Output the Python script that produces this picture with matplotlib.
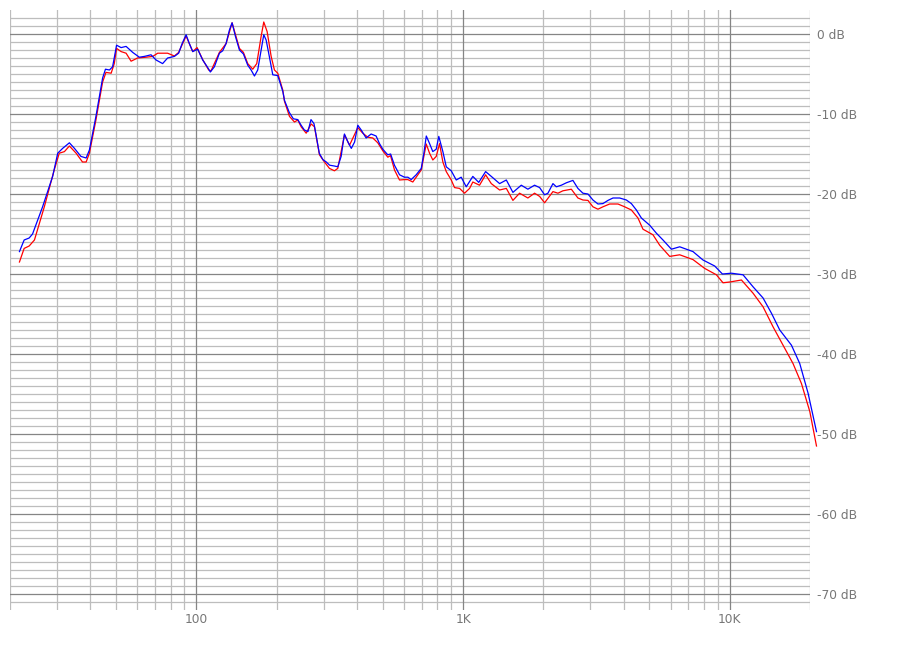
import matplotlib
matplotlib.use("Agg")
import matplotlib.pyplot as plt

# ---- data ----
freq_blue = [21.7, 22.6, 23.6, 24.3, 26.5, 28.9, 30.2, 31.5, 33.4, 34.9, 36.9, 38.6, 39.7,
             42.0, 44.5, 45.6, 47.2, 48.5, 50.2, 52.2, 54.5, 57.7, 61.1, 63.8, 67.6, 70.6,
             74.7, 78.0, 82.7, 85.8, 88.4, 91.5, 94.1, 96.9, 101.1, 105.6, 110.3, 112.8,
             116.8, 122.0, 125.5, 129.2, 133.0, 136.1, 140.1, 145.0, 150.1, 155.8, 160.4,
             165.1, 169.8, 174.9, 178.9, 182.6, 186.7, 193.4, 201.9, 211, 214, 223, 231,
             240, 247, 254, 262, 269, 276, 281, 289, 298, 307, 316, 329, 339, 349, 359,
             370, 381, 392, 403, 415, 433, 452, 472, 486, 500, 522, 535, 553, 578, 603,
             621, 639, 667, 697, 713, 728, 749, 770, 793, 811, 840, 865, 903, 943, 984,
             1028, 1088, 1145, 1215, 1276, 1371, 1453, 1538, 1653, 1750, 1854, 1937, 2022,
             2081, 2173, 2238, 2337, 2439, 2582, 2696, 2815, 2940, 3069, 3205, 3346, 3494,
             3649, 3866, 4096, 4277, 4466, 4663, 5010, 5308, 5620, 6043, 6493, 7283, 7937,
             8783, 9389, 10148, 11218, 12231, 13335, 14337, 15403, 17041, 18309, 19671,
             21152]
db_blue = [-27.2, -25.75, -25.5, -25.0, -21.6, -17.8, -14.9, -14.3, -13.6, -14.3, -15.3,
           -15.5, -14.5, -10.3, -5.5, -4.4, -4.5, -4.1, -1.4, -1.7, -1.55, -2.3, -2.9, -2.8,
           -2.6, -3.25, -3.7, -3.0, -2.8, -2.4, -1.2, -0.1, -1.2, -2.2, -1.9, -3.25, -4.2,
           -4.75, -4.1, -2.4, -2.1, -1.2, 0.5, 1.4, -0.3, -2.0, -2.5, -3.9, -4.5, -5.25,
           -4.5, -2.0, -0.1, -0.75, -2.4, -5.1, -5.2, -7.2, -8.3, -9.8, -10.6, -10.7, -11.4,
           -12.0, -12.2, -10.7, -11.2, -12.6, -14.9, -15.7, -16.0, -16.4, -16.5, -16.6,
           -15.3, -12.5, -13.5, -14.3, -13.5, -11.4, -12.0, -13.0, -12.5, -12.75, -13.7,
           -14.4, -15.1, -15.0, -16.4, -17.6, -17.9, -17.9, -18.2, -17.6, -16.8, -14.9,
           -12.75, -13.7, -14.7, -14.4, -12.8, -14.7, -16.6, -17.1, -18.25, -17.9, -19.1,
           -17.8, -18.55, -17.2, -17.8, -18.7, -18.25, -19.8, -18.9, -19.4, -18.9, -19.2,
           -20.1, -19.9, -18.7, -19.1, -18.9, -18.6, -18.3, -19.3, -19.9, -20.0, -20.75,
           -21.25, -21.2, -20.8, -20.5, -20.5, -20.75, -21.2, -22.0, -23.0, -23.9, -24.9,
           -25.75, -26.9, -26.6, -27.2, -28.25, -29.0, -30.0, -29.9, -30.1, -31.6, -33.0,
           -34.9, -37.0, -38.9, -41.2, -44.9, -49.7]

freq_red = [21.7, 22.6, 23.6, 24.7, 26.9, 29.3, 30.6, 32.0, 33.4, 35.4, 37.4, 38.6, 39.7,
            42.0, 44.5, 45.8, 47.9, 49.2, 50.2, 52.2, 54.5, 56.9, 60.2, 64.8, 68.6, 71.6,
            78.0, 82.7, 85.8, 91.5, 96.9, 100.6, 105.6, 111.2, 113.5, 122.0, 129.2, 136.1,
            145.0, 150.1, 155.8, 162.7, 168.4, 174.9, 178.9, 184.2, 190.7, 196.2, 201.9,
            210.8, 213.9, 223.4, 233.2, 240.0, 247.1, 258.0, 269.4, 277.2, 289.4, 302.2,
            315.5, 329.4, 339.0, 359.3, 375.2, 403.0, 420.7, 439.3, 458.7, 478.9, 500.1,
            522.2, 534.5, 553.3, 577.7, 603.2, 620.7, 648.0, 667.4, 696.9, 727.7, 748.7,
            770.3, 793.3, 816.2, 840.0, 865.0, 903.2, 929.3, 970.2, 1013, 1058, 1088, 1153,
            1215, 1276, 1371, 1453, 1538, 1629, 1750, 1854, 1937, 2022, 2173, 2269, 2368,
            2547, 2696, 2815, 2940, 3069, 3205, 3346, 3546, 3810, 4036, 4277, 4528, 4728,
            5155, 5462, 5955, 6493, 7283, 8055, 8913, 9437, 10000, 11064, 12231, 13335,
            14536, 15848, 17278, 18580, 19970, 21152]
db_red = [-28.5, -26.8, -26.5, -25.75, -21.6, -17.0, -14.9, -14.7, -14.0, -14.9, -16.0,
          -16.0, -14.9, -10.75, -6.0, -4.8, -4.9, -3.7, -1.8, -2.2, -2.4, -3.4, -3.0, -2.9,
          -2.8, -2.4, -2.4, -2.75, -2.3, -0.25, -2.2, -1.7, -3.2, -4.5, -4.6, -2.3, -1.2,
          1.4, -1.8, -2.3, -3.7, -4.4, -3.7, -0.3, 1.5, 0.3, -2.8, -4.5, -4.9, -7.0, -8.4,
          -10.3, -11.0, -10.75, -11.6, -12.4, -11.25, -11.6, -15.1, -16.0, -16.8, -17.1,
          -16.8, -12.6, -13.9, -11.7, -12.4, -12.9, -13.0, -13.6, -14.6, -15.4, -15.2,
          -17.0, -18.25, -18.2, -18.2, -18.5, -17.9, -17.0, -13.75, -14.9, -15.75, -15.3,
          -13.7, -16.0, -17.2, -18.25, -19.2, -19.3, -19.9, -19.3, -18.5, -18.9, -17.6,
          -18.7, -19.5, -19.3, -20.8, -19.9, -20.5, -19.9, -20.3, -21.1, -19.7, -19.9,
          -19.6, -19.4, -20.5, -20.75, -20.8, -21.6, -21.9, -21.6, -21.25, -21.25, -21.6,
          -22.0, -23.0, -24.4, -25.1, -26.4, -27.8, -27.6, -28.2, -29.3, -30.1, -31.1,
          -31.0, -30.75, -32.4, -34.1, -36.6, -38.9, -41.2, -43.7, -47.2, -51.5]

x_major = [100, 1000, 10000]
x_labels = ["100", "1K", "10K"]
y_major = [0, -10, -20, -30, -40, -50, -60, -70]
y_labels = ["%d dB" % v for v in y_major]

# ---- figure ----
fig = plt.figure(figsize=(9, 6.5), dpi=100)
ax = fig.add_axes([10 / 900, 40 / 650, 800 / 900, 600 / 650])
ax.set_xscale("log")
ax.set_xlim(20, 20000)
ax.set_ylim(-72, 3)
for s in ax.spines.values():
    s.set_visible(False)

minor_c = "#bdbdbd"
major_c = "#858585"
lw_grid = 0.9

# horizontal grid
for v in range(-71, 3):
    if v % 10 == 0:
        continue
    ax.axhline(v, color=minor_c, lw=lw_grid, zorder=1)
for v in y_major:
    ax.axhline(v, color=major_c, lw=lw_grid, zorder=1.5)

# vertical grid
for dec in [10, 100, 1000, 10000]:
    for m in range(2, 10):
        f = dec * m
        if f < 20 or f > 20000:
            continue
        ax.axvline(f, color=minor_c, lw=lw_grid, zorder=1)
for f in x_major:
    ax.axvline(f, color=major_c, lw=lw_grid, zorder=1.5)

# curves
ax.plot(freq_red, db_red, color="#ff0000", lw=0.9, zorder=3, clip_on=False)
ax.plot(freq_blue, db_blue, color="#0000ff", lw=0.9, zorder=4, clip_on=False)

# ticks
ax.set_xticks(x_major)
ax.set_xticklabels(x_labels)
ax.xaxis.set_minor_locator(matplotlib.ticker.NullLocator())
ax.set_yticks(y_major)
ax.set_yticklabels(y_labels)
ax.yaxis.tick_right()
ax.tick_params(axis="both", length=0, labelsize=8.8, labelcolor="#777777")
ax.tick_params(axis="x", pad=2)
ax.tick_params(axis="y", pad=5)

fig.savefig("out.png", dpi=100)
